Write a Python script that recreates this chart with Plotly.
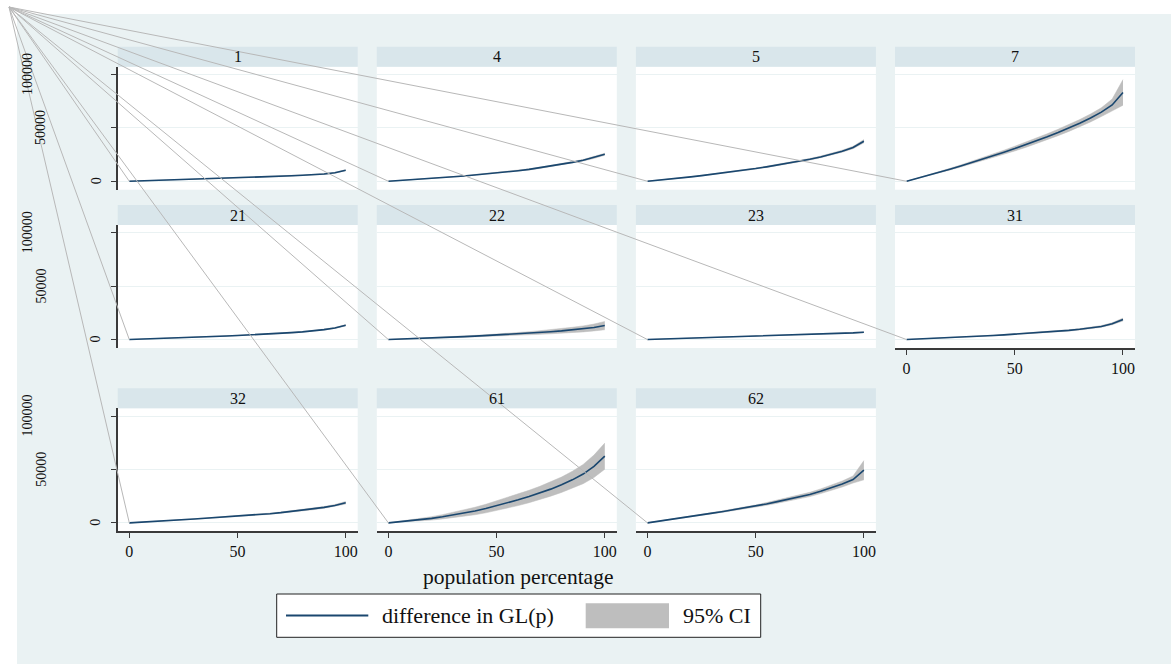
import plotly.graph_objects as go

W, H = 1171, 664

# population percentage grid
pct = [0, 5, 10, 15, 20, 25, 30, 35, 40, 45, 50, 55, 60, 65, 70, 75, 80, 85, 90, 95, 100]

# difference in GL(p) and half-width of the 95% CI, one pair per group
gl_1 = [0, 300, 600, 900, 1200, 1500, 1800, 2100, 2400, 2700, 3100, 3400, 3800, 4200, 4600, 5100, 5600, 6100, 6800, 7900, 10300]
ci_1 = [0, 30, 50, 70, 90, 110, 130, 150, 170, 190, 210, 230, 250, 270, 290, 310, 330, 350, 380, 420, 500]

gl_4 = [0, 600, 1300, 2000, 2700, 3400, 4200, 5000, 5900, 6800, 7800, 8800, 9900, 11100, 12600, 14200, 15900, 17700, 19700, 22200, 25300]
ci_4 = [0, 40, 80, 120, 160, 200, 240, 280, 320, 360, 400, 440, 480, 520, 560, 600, 650, 700, 750, 820, 950]

gl_5 = [0, 900, 1900, 3000, 4100, 5300, 6500, 7800, 9100, 10500, 11900, 13500, 15100, 16800, 18600, 20600, 22800, 25200, 28200, 31600, 37500]
ci_5 = [0, 50, 100, 150, 200, 250, 300, 350, 400, 450, 500, 550, 600, 650, 700, 750, 800, 850, 950, 1100, 1500]

gl_7 = [0, 2700, 5500, 8400, 11300, 14300, 17400, 20600, 23900, 27200, 30600, 34100, 37800, 41700, 45700, 49900, 54400, 59300, 64700, 71500, 83200]
ci_7 = [0, 200, 400, 600, 800, 1000, 1200, 1400, 1600, 1900, 2200, 2400, 2600, 2800, 3000, 3200, 3400, 3700, 4100, 5500, 12000]

gl_21 = [0, 300, 700, 1000, 1400, 1800, 2100, 2500, 2900, 3300, 3800, 4200, 4700, 5200, 5800, 6500, 7200, 8100, 9300, 10900, 13400]
ci_21 = [0, 30, 50, 70, 90, 110, 130, 150, 170, 190, 210, 230, 250, 270, 290, 310, 340, 370, 410, 470, 600]

gl_22 = [0, 300, 700, 1100, 1500, 1900, 2300, 2800, 3200, 3700, 4100, 4600, 5200, 5900, 6600, 7300, 8100, 9000, 10000, 11300, 13100]
ci_22 = [0, 100, 150, 200, 300, 400, 500, 600, 700, 800, 1000, 1100, 1300, 1500, 1700, 1900, 2200, 2500, 2800, 3200, 3900]

gl_23 = [0, 300, 600, 900, 1200, 1500, 1800, 2100, 2400, 2800, 3100, 3400, 3700, 4000, 4400, 4700, 5100, 5500, 5900, 6300, 6900]
ci_23 = [0, 20, 40, 60, 80, 100, 120, 140, 160, 180, 200, 220, 240, 260, 280, 300, 320, 340, 360, 380, 420]

gl_31 = [0, 400, 900, 1300, 1800, 2300, 2800, 3300, 3800, 4400, 5000, 5600, 6200, 6900, 7700, 8600, 9600, 10700, 12300, 14800, 18800]
ci_31 = [0, 40, 80, 120, 160, 200, 240, 280, 320, 360, 400, 440, 480, 520, 560, 600, 650, 700, 800, 950, 1300]

gl_32 = [0, 500, 1100, 1700, 2400, 3000, 3600, 4300, 4900, 5600, 6300, 7000, 7800, 8600, 9600, 10700, 11800, 13000, 14500, 16300, 18800]
ci_32 = [0, 40, 80, 120, 160, 200, 240, 280, 320, 360, 400, 440, 480, 520, 560, 600, 650, 700, 780, 900, 1200]

gl_61 = [0, 900, 1900, 3000, 4200, 5700, 7300, 9100, 11100, 13400, 16000, 18700, 21600, 24700, 28000, 31600, 35700, 40300, 45700, 53000, 62500]
ci_61 = [0, 400, 800, 1200, 1600, 2000, 2500, 3000, 3500, 4000, 4500, 5000, 5400, 5800, 6200, 6600, 7200, 8000, 9000, 10500, 12200]

gl_62 = [0, 1400, 2900, 4400, 6000, 7600, 9100, 10700, 12300, 13900, 15600, 17700, 19900, 22100, 24300, 26600, 29600, 32800, 36400, 40600, 49300]
ci_62 = [0, 100, 200, 300, 400, 500, 600, 700, 800, 1000, 1200, 1300, 1500, 1700, 1800, 2000, 2200, 2500, 2800, 3300, 9000]

panel_labels = ["1", "4", "5", "7", "21", "22", "23", "31", "32", "61", "62"]
panel_gl = [gl_1, gl_4, gl_5, gl_7, gl_21, gl_22, gl_23, gl_31, gl_32, gl_61, gl_62]
panel_ci = [ci_1, ci_4, ci_5, ci_7, ci_21, ci_22, ci_23, ci_31, ci_32, ci_61, ci_62]

y_ticks = [0, 50000, 100000]
y_tick_text = ["0", "50000", "100000"]
x_ticks = [0, 50, 100]
x_tick_text = ["0", "50", "100"]

# styling
NAVY = "#1A476F"
CI_GRAY = "#BEBEBE"
BG = "#EAF2F3"
STRIP = "#D9E6EB"
GRID = "#EAF2F3"
AXIS = "#3A3A3A"
SPOKE = "#B8B8B8"
FONT = "Liberation Serif"

X_RANGE = [-5.36, 105.55]
Y_RANGE = [-7900, 107300]
COL_LEFT = [117.7, 376.8, 635.9, 895.0]
ROW_TOP = [66.7, 225.0, 408.3]
PANEL_W = 240.0
PANEL_H = 123.0
STRIP_H = 20.0
N_COLS = 4


def fx(px):
    return px / W


def fy(py):
    return 1 - py / H


fig = go.Figure()
shapes = []
annotations = []
layout_axes = {}

# white outer margin along the top and left edges
shapes.append(dict(type="rect", xref="paper", yref="paper", x0=0, x1=1, y0=fy(14), y1=1,
                   fillcolor="white", line=dict(width=0), layer="below"))
shapes.append(dict(type="rect", xref="paper", yref="paper", x0=0, x1=fx(17), y0=0, y1=1,
                   fillcolor="white", line=dict(width=0), layer="below"))

origins = []
for i, label in enumerate(panel_labels):
    r, c = divmod(i, N_COLS)
    k = i + 1
    xa, ya = f"x{k}", f"y{k}"
    left, top = COL_LEFT[c], ROW_TOP[r]
    xdom = [fx(left), fx(left + PANEL_W)]
    ydom = [fy(top + PANEL_H), fy(top)]

    gl = panel_gl[i]
    half = panel_ci[i]
    lo = [g - h for g, h in zip(gl, half)]
    hi = [g + h for g, h in zip(gl, half)]

    fig.add_trace(go.Scatter(x=pct, y=lo, mode="lines", line=dict(color=CI_GRAY, width=0.5),
                             hoverinfo="skip", showlegend=False, xaxis=xa, yaxis=ya))
    fig.add_trace(go.Scatter(x=pct, y=hi, mode="lines", fill="tonexty", fillcolor=CI_GRAY,
                             line=dict(color=CI_GRAY, width=0.5), name="95% CI",
                             showlegend=False, xaxis=xa, yaxis=ya))
    fig.add_trace(go.Scatter(x=pct, y=gl, mode="lines", line=dict(color=NAVY, width=1.6),
                             name="difference in GL(p)", showlegend=False, xaxis=xa, yaxis=ya))

    below_empty = (r == 1 and c == 3)
    show_x = (r == 2) or below_empty
    show_y = (c == 0)

    sfx = "" if k == 1 else str(k)
    layout_axes["xaxis" + sfx] = dict(
        domain=xdom, anchor=ya, range=X_RANGE, showgrid=False, zeroline=False,
        showline=show_x, linecolor=AXIS, linewidth=1.5,
        tickvals=x_ticks if show_x else [], ticktext=x_tick_text,
        ticks="outside" if show_x else "", ticklen=5, tickcolor=AXIS, tickwidth=1.2,
        showticklabels=show_x, tickfont=dict(family=FONT, size=16, color="#111"),
        fixedrange=True,
    )
    layout_axes["yaxis" + sfx] = dict(
        domain=ydom, anchor=xa, range=Y_RANGE, showgrid=True, gridcolor=GRID, gridwidth=1.2,
        zeroline=False, tickvals=y_ticks, showticklabels=False,
        showline=show_y, linecolor=AXIS, linewidth=1.5,
        ticks="outside" if show_y else "", ticklen=5, tickcolor=AXIS, tickwidth=1.2,
        fixedrange=True,
    )

    # title strip
    shapes.append(dict(type="rect", xref="paper", yref="paper",
                       x0=xdom[0], x1=xdom[1], y0=fy(top), y1=fy(top - STRIP_H),
                       fillcolor=STRIP, line=dict(width=0), layer="below"))
    annotations.append(dict(text=label, xref="paper", yref="paper",
                            x=(xdom[0] + xdom[1]) / 2, y=fy(top - STRIP_H / 2),
                            xanchor="center", yanchor="middle", showarrow=False,
                            font=dict(family=FONT, size=16, color="#111")))

    # vertical tick labels on the left column, staggered by label length
    if show_y:
        for v, t in zip(y_ticks, y_tick_text):
            annotations.append(dict(text=t, textangle=-90, xref="paper", yref=ya,
                                    x=fx(96 - 13.7 * (len(t) - 1)), y=v,
                                    xanchor="center", yanchor="middle", showarrow=False,
                                    font=dict(family=FONT, size=14, color="#111")))

    # point (0, 0) of this panel in paper coordinates
    ox = xdom[0] + (0 - X_RANGE[0]) / (X_RANGE[1] - X_RANGE[0]) * (xdom[1] - xdom[0])
    oy = ydom[0] + (0 - Y_RANGE[0]) / (Y_RANGE[1] - Y_RANGE[0]) * (ydom[1] - ydom[0])
    origins.append((ox, oy))

# connector lines from the top-left corner to each panel origin
for ox, oy in origins:
    shapes.append(dict(type="line", xref="paper", yref="paper",
                       x0=fx(9), y0=fy(7), x1=ox, y1=oy,
                       line=dict(color=SPOKE, width=1), layer="above"))

# x-axis title
annotations.append(dict(text="population percentage", xref="paper", yref="paper",
                        x=fx(518), y=fy(577), xanchor="center", yanchor="middle",
                        showarrow=False, font=dict(family=FONT, size=21.5, color="#111")))

# legend box
shapes.append(dict(type="rect", xref="paper", yref="paper",
                   x0=fx(276.7), x1=fx(760.7), y0=fy(637.3), y1=fy(594),
                   fillcolor="white", line=dict(color="#222", width=1), layer="above"))
shapes.append(dict(type="line", xref="paper", yref="paper",
                   x0=fx(286), x1=fx(368.3), y0=fy(615.5), y1=fy(615.5),
                   line=dict(color=NAVY, width=2), layer="above"))
shapes.append(dict(type="rect", xref="paper", yref="paper",
                   x0=fx(585.7), x1=fx(669), y0=fy(628.3), y1=fy(603.3),
                   fillcolor=CI_GRAY, line=dict(width=0), layer="above"))
annotations.append(dict(text="difference in GL(p)", xref="paper", yref="paper",
                        x=fx(380), y=fy(615.5), xanchor="left", yanchor="middle",
                        showarrow=False, font=dict(family=FONT, size=22, color="#111")))
annotations.append(dict(text="95% CI", xref="paper", yref="paper",
                        x=fx(681), y=fy(615.5), xanchor="left", yanchor="middle",
                        showarrow=False, font=dict(family=FONT, size=22, color="#111")))

fig.update_layout(
    width=W, height=H, autosize=False,
    margin=dict(l=0, r=0, t=0, b=0, pad=0),
    paper_bgcolor=BG, plot_bgcolor="white",
    showlegend=False,
    shapes=shapes, annotations=annotations,
    **layout_axes,
)

fig.write_html("out.html")
